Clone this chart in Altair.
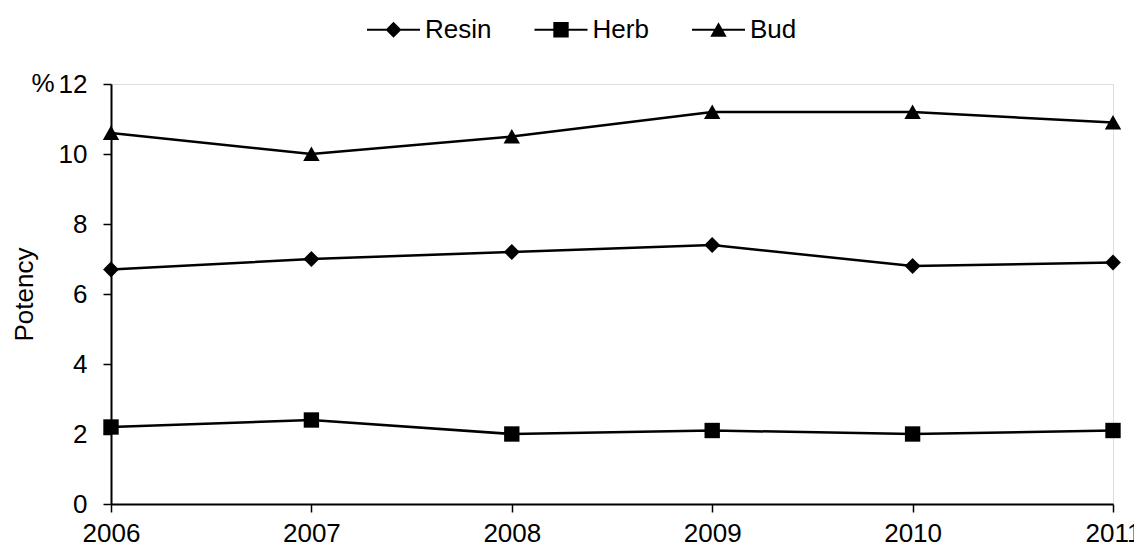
import altair as alt
import pandas as pd

years = [2006, 2007, 2008, 2009, 2010, 2011]
series = ["Resin", "Herb", "Bud"]
resin = [6.7, 7.0, 7.2, 7.4, 6.8, 6.9]
herb = [2.2, 2.4, 2.0, 2.1, 2.0, 2.1]
bud = [10.6, 10.0, 10.5, 11.2, 11.2, 10.9]
y_ticks = [0, 2, 4, 6, 8, 10, 12]

rows = []
for name, vals in zip(series, [resin, herb, bud]):
    for yr, v in zip(years, vals):
        rows.append({"Year": yr, "Series": name, "Potency": v})
df = pd.DataFrame(rows)

# marker shapes for the chart
shapes = [
    "M0,-0.3L0.3,0L0,0.3L-0.3,0Z",
    "M-0.29,-0.29L0.29,-0.29L0.29,0.29L-0.29,0.29Z",
    "M0,-0.28L0.31,0.26L-0.31,0.26Z",
]
# legend symbols: same markers with a thin filled bar (the line) through them
STUB = "M-1,-0.04L1,-0.04L1,0.04L-1,0.04Z"
legend_shapes = [STUB + s for s in shapes]

SYM = 2809
FONT = "Liberation Sans"
FS = 26

x = alt.X("Year:Q", scale=alt.Scale(domain=[2006, 2011], nice=False, zero=False),
          axis=alt.Axis(values=years, format="d", title=None, grid=False,
                        labelFontSize=FS, labelFont=FONT, labelColor="black",
                        tickSize=8, tickColor="black", tickWidth=1.5,
                        domainColor="black", domainWidth=2, labelPadding=8,
                        labelFlush=False))
y = alt.Y("Potency:Q", scale=alt.Scale(domain=[0, 12], nice=False),
          axis=alt.Axis(values=y_ticks, title="Potency", grid=False,
                        labelFontSize=FS, labelFont=FONT, labelColor="black",
                        tickSize=8, tickColor="black", tickWidth=1.5,
                        domainColor="black", domainWidth=2, labelPadding=16,
                        titleFontSize=FS, titleFont=FONT, titleFontWeight="normal",
                        titleColor="black", titleX=-87, titleY=210,
                        titleBaseline="middle", titleAngle=-90))

base = alt.Chart(df)

lines = base.mark_line(color="black", strokeWidth=2.5).encode(
    x=x, y=y, detail="Series:N"
)

points = base.mark_point(filled=True, size=SYM, opacity=1, color="black").encode(
    x=x, y=y,
    shape=alt.Shape("Series:N", scale=alt.Scale(domain=series, range=shapes), legend=None),
)

# zero-size layer that only supplies the legend
legend_layer = base.mark_point(filled=True, size=0, color="black").encode(
    x=x, y=y,
    shape=alt.Shape("Series:N", scale=alt.Scale(domain=series, range=legend_shapes),
                    legend=alt.Legend(title=None, orient="none", direction="horizontal",
                                      legendX=256, legendY=-81,
                                      symbolSize=SYM, symbolFillColor="black",
                                      symbolStrokeWidth=0, symbolOpacity=1,
                                      labelFontSize=FS, labelFont=FONT, labelColor="black",
                                      columnPadding=42.5, labelOffset=5)),
)

pct = alt.Chart(pd.DataFrame({"t": ["%"]})).mark_text(
    fontSize=FS, font=FONT, color="black", align="center", baseline="middle"
).encode(x=alt.value(-68), y=alt.value(0), text="t:N")

chart = alt.layer(lines, points, legend_layer, pct).resolve_scale(
    shape="independent"
).properties(
    width=1002, height=420,
    autosize=alt.AutoSizeParams(type="none"),
    padding={"left": 103, "top": 76, "right": 21, "bottom": 41},
).configure_view(stroke=None, strokeWidth=0).configure(background="white")

chart.save("out.html", embed_options={"renderer": "svg", "actions": False})
